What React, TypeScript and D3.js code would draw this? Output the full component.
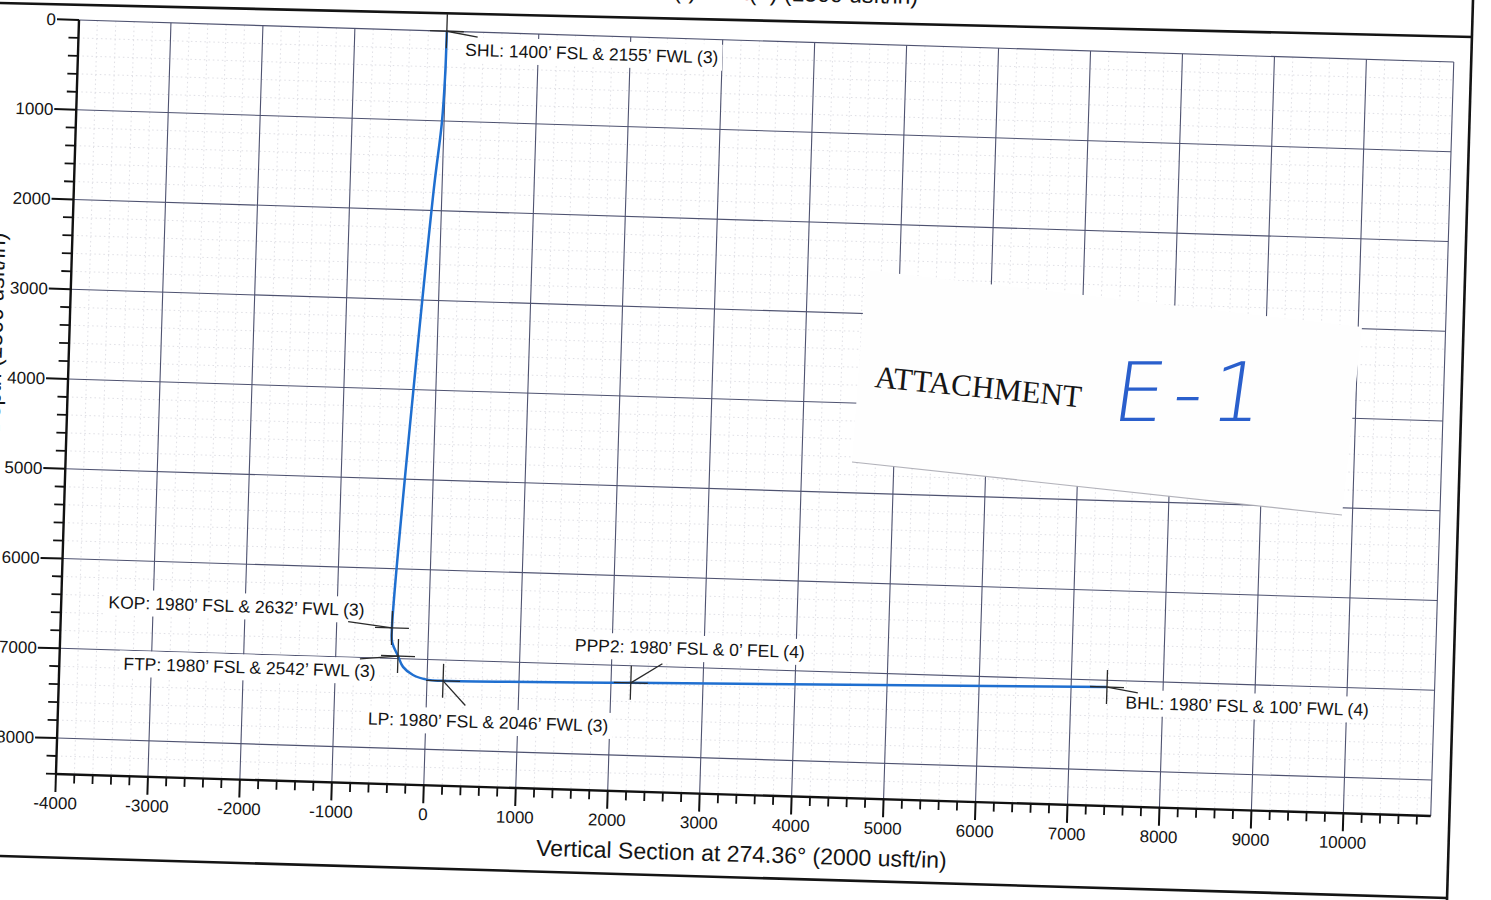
import React, { useEffect, useRef } from "react";
import * as d3 from "d3";

// ---------- DATA ----------
// Well path: vertical section (usft) and true vertical depth (usft)
const pathVS = [0, -4, -23, -96, -398, -392, -323, -265, -154, 11, 175, 2215, 7390];
const pathTVD = [0, 510, 1010, 1850, 6660, 6817, 6971, 7090, 7177, 7226, 7232, 7190, 7075];

// Annotated targets
const targetNames = ["SHL", "KOP", "FTP", "LP", "PPP2", "BHL"];
const targetVS = [0, -398, -323, 175, 2215, 7390];
const targetTVD = [0, 6660, 6971, 7232, 7190, 7075];
const targetLabels = [
  "SHL: 1400\u2019 FSL & 2155\u2019 FWL (3)",
  "KOP: 1980\u2019 FSL & 2632\u2019 FWL (3)",
  "FTP: 1980\u2019 FSL & 2542\u2019 FWL (3)",
  "LP: 1980\u2019 FSL & 2046\u2019 FWL (3)",
  "PPP2: 1980\u2019 FSL & 0\u2019 FEL (4)",
  "BHL: 1980\u2019 FSL & 100\u2019 FWL (4)",
];

// Axis ticks
const xTickValues = [-4000, -3000, -2000, -1000, 0, 1000, 2000, 3000, 4000, 5000, 6000, 7000, 8000, 9000, 10000];
const yTickValues = [0, 1000, 2000, 3000, 4000, 5000, 6000, 7000, 8000];
const xTitle = "Vertical Section at 274.36\u00b0 (2000 usft/in)";
const yTitle = "True Vertical Depth (1500 usft/in)";
const topTitleParts = ["West(-)/", "East", "(+) (1500 usft/in)"];
const stampText = "ATTACHMENT";
const handText = "E-1";

// ---------- LAYOUT ----------
const W = 1491;
const H = 900;
const ORIGIN = [79, 20];
const TILT = 1.75;
const X_DOMAIN = [-4000, 10950];
const Y_DOMAIN = [0, 8400];
const PX_X = 0.092;
const PX_Y = 0.0898;
const FONT = "'Liberation Sans', Arial, Helvetica, sans-serif";

const labelLayout: Record<string, { tx: number; ty: number; anchor: string; lx: number; ly: number }> = {
  SHL: { tx: 19, ty: 24, anchor: "start", lx: 31, ly: 5 },
  KOP: { tx: -28, ty: -11, anchor: "end", lx: -44, ly: -5 },
  FTP: { tx: -22, ty: 22, anchor: "end", lx: -38, ly: 4 },
  LP: { tx: -74, ty: 46, anchor: "start", lx: 23, ly: 24 },
  PPP2: { tx: -57, ty: -30, anchor: "start", lx: 31, ly: -20 },
  BHL: { tx: 19, ty: 21, anchor: "start", lx: 31, ly: 5 },
};

export default function App() {
  const ref = useRef<SVGSVGElement>(null);

  useEffect(() => {
    const svg = d3.select(ref.current);
    svg.selectAll("*").remove();

    const x = d3
      .scaleLinear()
      .domain(X_DOMAIN)
      .range([ORIGIN[0], ORIGIN[0] + (X_DOMAIN[1] - X_DOMAIN[0]) * PX_X]);
    const y = d3
      .scaleLinear()
      .domain(Y_DOMAIN)
      .range([ORIGIN[1], ORIGIN[1] + (Y_DOMAIN[1] - Y_DOMAIN[0]) * PX_Y]);

    const xL = x(X_DOMAIN[0]);
    const xR = x(X_DOMAIN[1]);
    const yT = y(Y_DOMAIN[0]);
    const yB = y(Y_DOMAIN[1]);

    svg.append("rect").attr("width", W).attr("height", H).attr("fill", "#ffffff");

    const g = svg.append("g").attr("transform", `rotate(${TILT},${ORIGIN[0]},${ORIGIN[1]})`);

    // minor grid (faint dotted)
    const minorX = d3.range(X_DOMAIN[0] + 200, X_DOMAIN[1], 200).filter((v) => v % 1000 !== 0);
    const minorY = d3.range(200, Y_DOMAIN[1], 200).filter((v) => v % 1000 !== 0);
    const mg = g.append("g").attr("stroke", "#c9c9d2").attr("stroke-width", 0.8).attr("stroke-dasharray", "1.5,3").attr("opacity", 0.7);
    mg.selectAll("line.mx").data(minorX).join("line").attr("x1", (d) => x(d)).attr("x2", (d) => x(d)).attr("y1", yT).attr("y2", yB);
    mg.selectAll("line.my").data(minorY).join("line").attr("y1", (d) => y(d)).attr("y2", (d) => y(d)).attr("x1", xL).attr("x2", xR);

    // major grid
    const gg = g.append("g").attr("stroke", "#4e5270").attr("stroke-width", 1.1).attr("fill", "none");
    gg.selectAll("line.gx")
      .data(xTickValues.filter((v) => v > X_DOMAIN[0]))
      .join("line")
      .attr("x1", (d) => x(d)).attr("x2", (d) => x(d)).attr("y1", yT).attr("y2", yB);
    gg.selectAll("line.gy")
      .data(yTickValues.filter((v) => v > 0))
      .join("line")
      .attr("y1", (d) => y(d)).attr("y2", (d) => y(d)).attr("x1", xL).attr("x2", xR);
    gg.append("line").attr("x1", xL).attr("x2", xR).attr("y1", yT).attr("y2", yT);
    gg.append("line").attr("x1", xR).attr("x2", xR).attr("y1", yT).attr("y2", yB);

    // axes
    const ax = g.append("g").attr("stroke", "#111").attr("fill", "none");
    ax.append("line").attr("x1", xL).attr("x2", xL).attr("y1", yT).attr("y2", yB).attr("stroke-width", 2.4);
    ax.append("line").attr("x1", xL - 1).attr("x2", xR).attr("y1", yB).attr("y2", yB).attr("stroke-width", 2.4);

    const yMinor = d3.range(0, Y_DOMAIN[1] + 1, 200).filter((v) => v % 1000 !== 0);
    ax.selectAll("line.ytm").data(yMinor).join("line")
      .attr("x1", xL).attr("x2", xL - 10).attr("y1", (d) => y(d)).attr("y2", (d) => y(d)).attr("stroke-width", 1.8);
    ax.selectAll("line.ytM").data(yTickValues).join("line")
      .attr("x1", xL).attr("x2", xL - 22).attr("y1", (d) => y(d)).attr("y2", (d) => y(d)).attr("stroke-width", 2);
    const xMinor = d3.range(X_DOMAIN[0], X_DOMAIN[1], 200).filter((v) => v % 1000 !== 0);
    ax.selectAll("line.xtm").data(xMinor).join("line")
      .attr("x1", (d) => x(d)).attr("x2", (d) => x(d)).attr("y1", yB).attr("y2", yB + 9).attr("stroke-width", 1.8);
    ax.selectAll("line.xtM").data(xTickValues).join("line")
      .attr("x1", (d) => x(d)).attr("x2", (d) => x(d)).attr("y1", yB).attr("y2", yB + 18).attr("stroke-width", 2);

    // tick labels
    const tl = g.append("g").attr("font-family", FONT).attr("font-size", 17).attr("fill", "#151515");
    tl.selectAll("text.yl").data(yTickValues).join("text")
      .attr("x", xL - 23).attr("y", (d) => y(d) + 6).attr("text-anchor", "end").text((d) => String(d));
    tl.selectAll("text.xl").data(xTickValues).join("text")
      .attr("x", (d) => x(d)).attr("y", yB + 35).attr("text-anchor", "middle").text((d) => String(d));

    // axis titles
    g.append("text")
      .attr("x", (xL + xR) / 2).attr("y", yB + 67)
      .attr("text-anchor", "middle").attr("font-family", FONT).attr("font-size", 23).attr("fill", "#151515")
      .text(xTitle);
    g.append("text")
      .attr("transform", `translate(${xL - 67},${yT + 215}) rotate(-90)`)
      .attr("text-anchor", "end").attr("font-family", FONT).attr("font-size", 23).attr("fill", "#151515")
      .text(yTitle);

    // well path
    const pts: [number, number][] = pathVS.map((v, i) => [v, pathTVD[i]]);
    const line = d3.line<[number, number]>()
      .x((d) => x(d[0]))
      .y((d) => y(d[1]))
      .curve(d3.curveCatmullRom.alpha(0.5));
    g.append("path").attr("d", line(pts)).attr("fill", "none").attr("stroke", "#1f6fd0").attr("stroke-width", 2.5);

    // labels with white boxes
    const lg = g.append("g");
    targetNames.forEach((name, i) => {
      const L = labelLayout[name];
      const mx = x(targetVS[i]);
      const my = y(targetTVD[i]);
      const box = lg.append("rect").attr("fill", "#ffffff");
      const t = lg.append("text")
        .attr("x", mx + L.tx).attr("y", my + L.ty)
        .attr("text-anchor", L.anchor)
        .attr("font-family", FONT).attr("font-size", 17.5).attr("fill", "#151515")
        .text(targetLabels[i]);
      const bb = (t.node() as SVGTextElement).getBBox();
      box.attr("x", bb.x - 4).attr("y", bb.y - 3).attr("width", bb.width + 8).attr("height", bb.height + 6);
    });

    // leaders + markers
    const mk = g.append("g").attr("stroke", "#2a2a2a").attr("stroke-width", 1.3);
    targetNames.forEach((name, i) => {
      const L = labelLayout[name];
      const mx = x(targetVS[i]);
      const my = y(targetTVD[i]);
      mk.append("line").attr("x1", mx).attr("y1", my).attr("x2", mx + L.lx).attr("y2", my + L.ly);
      mk.append("line").attr("x1", mx - 17).attr("x2", mx + 17).attr("y1", my).attr("y2", my);
      mk.append("line").attr("x1", mx).attr("x2", mx).attr("y1", my - 17).attr("y2", my + 17);
    });

    // ---------- overlays in page space ----------
    // pasted attachment label
    const patch: [number, number][] = [[866, 270], [1362, 327], [1342, 515], [852, 462]];
    svg.append("polygon").attr("points", patch.map((p) => p.join(",")).join(" ")).attr("fill", "#fefefe");
    svg.append("line").attr("x1", 852).attr("y1", 462).attr("x2", 1342).attr("y2", 515)
      .attr("stroke", "#a0a0aa").attr("stroke-width", 1.2).attr("opacity", 0.8);
    svg.append("text")
      .attr("transform", "translate(874,387) rotate(5.6)")
      .attr("font-family", "'Liberation Serif', 'Times New Roman', serif").attr("font-size", 31).attr("fill", "#161616")
      .text(stampText);
    svg.append("text")
      .attr("transform", "translate(1110,421) skewX(-8)")
      .attr("font-family", "'DejaVu Sans', sans-serif").attr("font-weight", 200).attr("font-size", 82)
      .attr("letter-spacing", 8).attr("fill", "#2a5fcc")
      .text(handText);

    // page frame lines
    const fr = svg.append("g").attr("stroke", "#141414").attr("stroke-width", 2.6).attr("fill", "none");
    fr.append("line").attr("x1", 0).attr("y1", 3).attr("x2", 1473).attr("y2", 37);
    fr.append("line").attr("x1", 1473).attr("y1", 0).attr("x2", 1447).attr("y2", 900);
    fr.append("line").attr("x1", 0).attr("y1", 856).attr("x2", 1447).attr("y2", 898);

    // cut-off title of the plot above
    const tt = svg.append("text")
      .attr("transform", "translate(918,4) rotate(1.3)")
      .attr("text-anchor", "end").attr("font-family", FONT).attr("font-size", 23).attr("fill", "#151515");
    tt.append("tspan").text(topTitleParts[0]);
    tt.append("tspan").attr("fill", "#d04040").text(topTitleParts[1]);
    tt.append("tspan").text(topTitleParts[2]);
  }, []);

  return (
    <svg
      ref={ref}
      width={W}
      height={H}
      style={{ position: "absolute", left: 0, top: 0, display: "block" }}
    />
  );
}
